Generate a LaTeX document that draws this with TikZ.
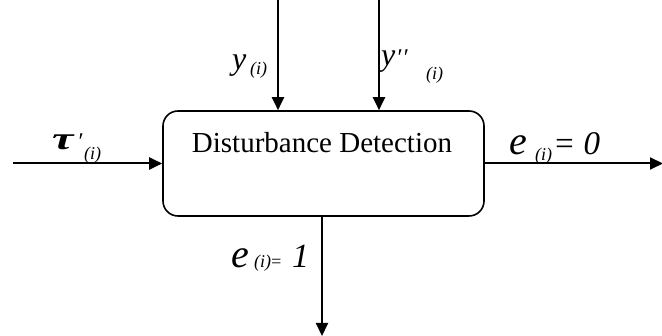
\documentclass[tikz,border=0pt]{standalone}
\usepackage{fontspec}
\setmainfont{Liberation Serif}
\usetikzlibrary{arrows.meta}
\begin{document}
\begin{tikzpicture}[x=1pt,y=1pt,
  conn/.style={line width=2pt,-{Triangle[length=13pt,width=12pt]}},
  lbl/.style={inner sep=0pt,anchor=base west,font=\itshape},
  sub/.style={lbl,font=\itshape\fontsize{18}{20}\selectfont}]
\useasboundingbox (0,0) rectangle (662,336);
\node[draw,line width=1.6pt,rounded corners=15pt,minimum width=321pt,minimum height=105pt,inner sep=0pt] (box) at (323.5,172.5) {};
\node[inner sep=0pt,anchor=base,font=\fontsize{29}{33}\selectfont] (title) at (322,183) {Disturbance Detection};
% connectors
\coordinate (inL) at (13,172.5);
\coordinate (outR) at (663,172.5);
\coordinate (t1) at (278,337);
\coordinate (t2) at (379,337);
\coordinate (b1) at (322,0);
\draw[conn] (inL) -- (box.west);
\draw[conn] (box.east) -- (outR);
\draw[conn] (t1) -- (t1 |- box.north);
\draw[conn] (t2) -- (t2 |- box.north);
\draw[conn] (b1 |- box.south) -- (b1);
% labels
\node[lbl,font=\itshape\bfseries\fontsize{32}{36}\selectfont] (tau) at (52,186) {\scalebox{1.5}[1]{τ}};
\node[lbl,font=\itshape\fontsize{24}{26}\selectfont] (taup) at (77,186) {′};
\node[sub] (taui) at (84,176) {(i)};
\node[lbl,font=\itshape\fontsize{32}{36}\selectfont] (y1) at (232,266) {y};
\node[sub] (y1i) at (250,261) {(i)};
\node[lbl,font=\itshape\fontsize{32}{36}\selectfont] (y2) at (381,270) {y};
\node[lbl,font=\itshape\fontsize{24}{26}\selectfont] (y2p) at (396,270) {′\kern1pt′};
\node[sub] (y2i) at (426,256) {(i)};
\node[lbl,font=\itshape\fontsize{40}{44}\selectfont] (e0) at (509,181) {e};
\node[sub] (e0i) at (535,175.5) {(i)};
\node[lbl,font=\itshape\fontsize{33}{36}\selectfont] (e0r) at (553,181) {= 0};
\node[lbl,font=\itshape\fontsize{40}{44}\selectfont] (e1) at (231,68) {e};
\node[sub] (e1i) at (254,68.5) {(i)};
\node[lbl,font=\itshape\fontsize{18}{20}\selectfont] (e1eq) at (270,68.5) {=};
\node[lbl,font=\itshape\fontsize{34}{38}\selectfont] (e1r) at (292,68) {1};
\end{tikzpicture}
\end{document}
